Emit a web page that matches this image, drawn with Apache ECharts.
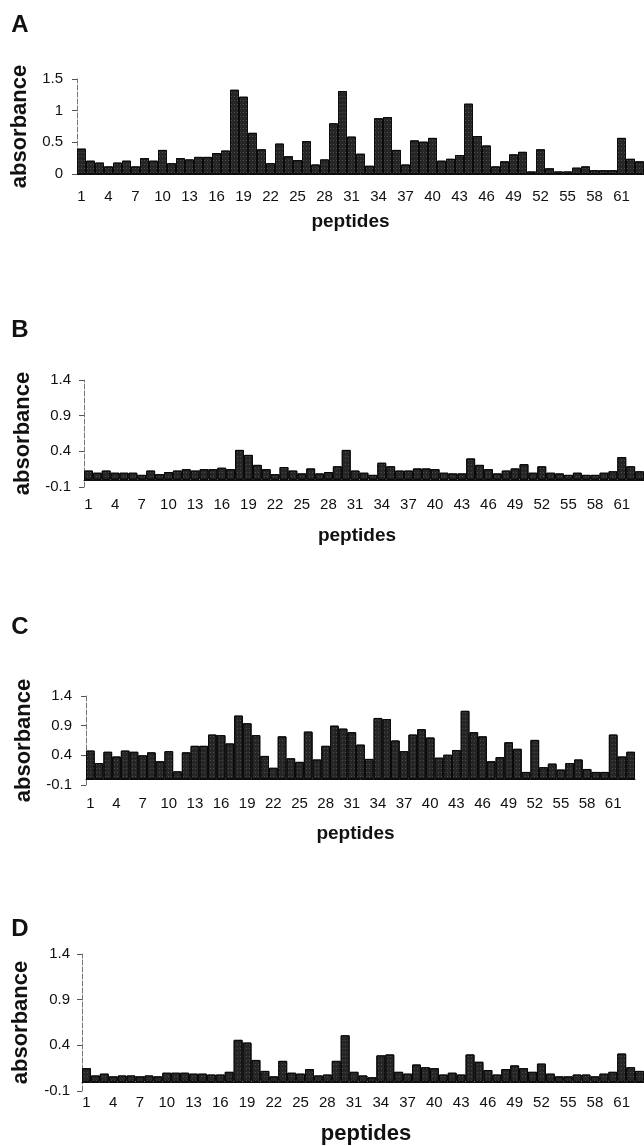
<!DOCTYPE html>
<html>
<head>
<meta charset="utf-8">
<title>absorbance / peptides</title>
<script src="https://cdn.jsdelivr.net/npm/echarts@6/dist/echarts.min.js"></script>
<style>
  html, body { margin: 0; padding: 0; background: #fff; }
  #chart { width: 644px; height: 1146px; }
</style>
</head>
<body>
<div id="chart"></div>
<script>
// peptide numbers on the x axis
const peptides = [
  '1', '2', '3', '4', '5', '6', '7', '8', '9', '10',
  '11', '12', '13', '14', '15', '16', '17', '18', '19', '20',
  '21', '22', '23', '24', '25', '26', '27', '28', '29', '30',
  '31', '32', '33', '34', '35', '36', '37', '38', '39', '40',
  '41', '42', '43', '44', '45', '46', '47', '48', '49', '50',
  '51', '52', '53', '54', '55', '56', '57', '58', '59', '60',
  '61', '62', '63',
];

// absorbance per peptide, one array per panel
const absorbanceA = [
  0.40, 0.21, 0.18, 0.12, 0.18, 0.21, 0.12, 0.25, 0.21, 0.38,
  0.17, 0.25, 0.23, 0.27, 0.27, 0.33, 0.37, 1.33, 1.22, 0.65,
  0.39, 0.17, 0.48, 0.28, 0.22, 0.52, 0.15, 0.23, 0.80, 1.31,
  0.59, 0.32, 0.13, 0.88, 0.90, 0.38, 0.15, 0.53, 0.51, 0.57,
  0.21, 0.24, 0.30, 1.11, 0.60, 0.45, 0.12, 0.20, 0.31, 0.35,
  0.04, 0.39, 0.09, 0.04, 0.04, 0.10, 0.12, 0.06, 0.06, 0.06,
  0.57, 0.24, 0.20,
];
const absorbanceB = [
  0.13, 0.10, 0.13, 0.10, 0.10, 0.10, 0.07, 0.13, 0.08, 0.11,
  0.13, 0.15, 0.13, 0.15, 0.15, 0.17, 0.15, 0.42, 0.35, 0.21,
  0.15, 0.08, 0.18, 0.13, 0.09, 0.16, 0.09, 0.11, 0.19, 0.42,
  0.13, 0.10, 0.07, 0.24, 0.19, 0.13, 0.13, 0.16, 0.16, 0.15,
  0.10, 0.09, 0.09, 0.30, 0.21, 0.15, 0.09, 0.13, 0.16, 0.22,
  0.10, 0.19, 0.10, 0.09, 0.07, 0.10, 0.07, 0.07, 0.10, 0.12,
  0.32, 0.19, 0.12,
];
const absorbanceC = [
  0.48, 0.27, 0.46, 0.38, 0.48, 0.46, 0.40, 0.45, 0.30, 0.47,
  0.13, 0.45, 0.56, 0.56, 0.75, 0.74, 0.60, 1.07, 0.94, 0.74,
  0.39, 0.19, 0.72, 0.35, 0.29, 0.80, 0.33, 0.56, 0.90, 0.85,
  0.79, 0.58, 0.34, 1.03, 1.01, 0.65, 0.47, 0.75, 0.84, 0.70,
  0.36, 0.41, 0.49, 1.15, 0.79, 0.72, 0.30, 0.37, 0.62, 0.51,
  0.12, 0.66, 0.20, 0.26, 0.16, 0.27, 0.33, 0.17, 0.12, 0.12,
  0.75, 0.38, 0.46,
];
const absorbanceD = [
  0.15, 0.07, 0.09, 0.06, 0.07, 0.07, 0.06, 0.07, 0.06, 0.10,
  0.10, 0.10, 0.09, 0.09, 0.08, 0.08, 0.11, 0.46, 0.43, 0.24,
  0.12, 0.06, 0.23, 0.10, 0.09, 0.14, 0.07, 0.08, 0.23, 0.51,
  0.11, 0.07, 0.05, 0.29, 0.30, 0.11, 0.09, 0.19, 0.16, 0.15,
  0.08, 0.10, 0.08, 0.30, 0.22, 0.13, 0.08, 0.14, 0.18, 0.15,
  0.11, 0.20, 0.09, 0.06, 0.06, 0.08, 0.08, 0.06, 0.09, 0.11,
  0.31, 0.16, 0.12,
];

// y tick values
const yTicksA = [0, 0.5, 1, 1.5];
const yTicksBCD = [-0.1, 0.4, 0.9, 1.4];

// where each panel sits on the page
const panels = [
  { letter: 'A', values: absorbanceA, ticks: yTicksA, min: 0, max: 1.5,
    left: 77, top: 79, width: 567, height: 95, letterY: 25,
    yNameGap: 41, yLabelMargin: 14, xLabelMargin: 15, xLabelSize: 15,
    xNameGap: 38, xNameSize: 19, xNamePad: [0, 20, 0, 0] },
  { letter: 'B', values: absorbanceB, ticks: yTicksBCD, min: -0.1, max: 1.4,
    left: 84, top: 380, width: 560, height: 107, letterY: 330,
    yNameGap: 48, yLabelMargin: 13, xLabelMargin: 10, xLabelSize: 15,
    xNameGap: 39, xNameSize: 19, xNamePad: [0, 14, 0, 0] },
  { letter: 'C', values: absorbanceC, ticks: yTicksBCD, min: -0.1, max: 1.4,
    left: 86, top: 696, width: 549, height: 89, letterY: 627,
    yNameGap: 50, yLabelMargin: 14, xLabelMargin: 11, xLabelSize: 15,
    xNameGap: 39, xNameSize: 19, xNamePad: [0, 10, 0, 0] },
  { letter: 'D', values: absorbanceD, ticks: yTicksBCD, min: -0.1, max: 1.4,
    left: 82, top: 954, width: 562, height: 139, letterY: 929,
    yNameGap: 50, yLabelMargin: 12, xLabelMargin: 4, xLabelSize: 15,
    xNameGap: 32, xNameSize: 22, xNamePad: [0, 0, 0, 6] },
];

const chart = echarts.init(document.getElementById('chart'));

const grid = [];
const xAxis = [];
const yAxis = [];
const series = [];
const graphic = [];

panels.forEach((p, i) => {
  grid.push({ left: p.left, top: p.top, width: p.width, height: p.height });

  // axis line at zero, ticks between bars
  xAxis.push({
    type: 'category',
    gridIndex: i,
    data: peptides,
    axisLine: { onZero: true, lineStyle: { color: '#111', width: 1 } },
    axisTick: { interval: 0, length: 4, lineStyle: { color: '#333' } },
    axisLabel: { show: false },
  });
  // labels + title at the bottom of the plot
  xAxis.push({
    type: 'category',
    gridIndex: i,
    data: peptides,
    position: 'bottom',
    axisLine: { show: false, onZero: false },
    axisTick: { show: false },
    axisLabel: { interval: 2, margin: p.xLabelMargin, fontSize: p.xLabelSize, color: '#111' },
    name: 'peptides',
    nameLocation: 'middle',
    nameGap: p.xNameGap,
    nameTextStyle: { fontSize: p.xNameSize, fontWeight: 'bold', color: '#111', padding: p.xNamePad },
  });

  yAxis.push({
    type: 'value',
    gridIndex: i,
    min: p.min,
    max: p.max,
    axisLine: { show: true, lineStyle: { color: '#777', width: 1, type: [5, 2] } },
    axisTick: { show: true, length: 5, customValues: p.ticks, lineStyle: { color: '#555' } },
    axisLabel: { customValues: p.ticks, margin: p.yLabelMargin, fontSize: 15, color: '#111' },
    splitLine: { show: false },
    name: 'absorbance',
    nameLocation: 'middle',
    nameRotate: 90,
    nameGap: p.yNameGap,
    nameTextStyle: { fontSize: 22, fontWeight: 'bold', color: '#111' },
  });

  series.push({
    type: 'bar',
    xAxisIndex: i * 2,
    yAxisIndex: i,
    data: p.values,
    barCategoryGap: '0%',
    itemStyle: {
      color: '#262626',
      borderColor: '#0a0a0a',
      borderWidth: 1,
      // speckled print texture
      decal: {
        symbol: 'rect',
        symbolSize: 1,
        color: 'rgba(255,255,255,0.18)',
        dashArrayX: [1, 2],
        dashArrayY: [1, 3],
        rotation: 0,
      },
    },
  });

  graphic.push({
    type: 'text',
    x: 20,
    y: p.letterY,
    style: {
      text: p.letter,
      font: 'bold 24px "Liberation Sans", Arial, sans-serif',
      fill: '#111',
      align: 'center',
      verticalAlign: 'middle',
    },
  });
});

chart.setOption({
  animation: false,
  backgroundColor: '#fff',
  textStyle: { fontFamily: '"Liberation Sans", Arial, sans-serif' },
  grid,
  xAxis,
  yAxis,
  series,
  graphic,
});
</script>
</body>
</html>
